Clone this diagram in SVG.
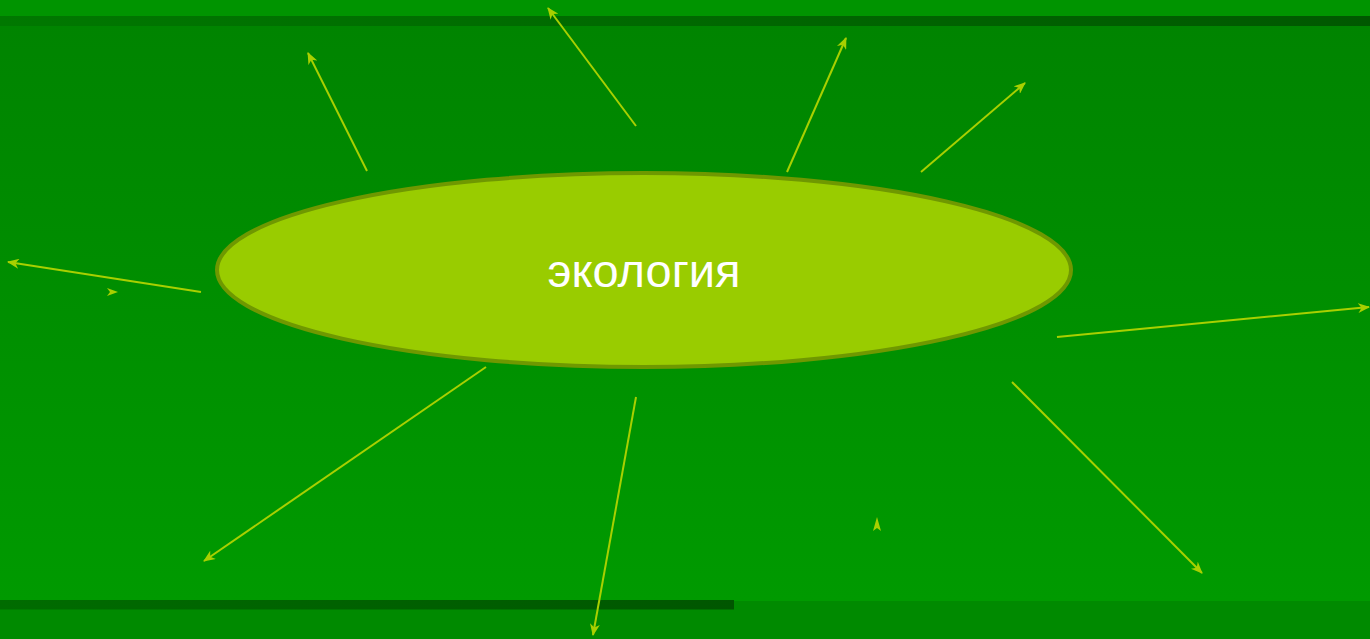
<svg xmlns="http://www.w3.org/2000/svg" width="1370" height="639" viewBox="0 0 1370 639">
<defs>
<linearGradient id="main" x1="0" y1="0" x2="0" y2="1">
<stop offset="0" stop-color="#008400"/>
<stop offset="1" stop-color="#009a00"/>
</linearGradient>
<linearGradient id="band" x1="0" y1="0" x2="1" y2="0">
<stop offset="0" stop-color="#007800"/>
<stop offset="1" stop-color="#005800"/>
</linearGradient>
<linearGradient id="band2" x1="0" y1="0" x2="1" y2="0">
<stop offset="0" stop-color="#006c00"/>
<stop offset="1" stop-color="#005600"/>
</linearGradient>
<marker id="ah" viewBox="0 0 12 10" refX="11" refY="5" markerWidth="12" markerHeight="10" markerUnits="userSpaceOnUse" orient="auto">
<path d="M0,0 L12,5 L0,10 L3.5,5 z" fill="#a8d000"/>
</marker>
<style>
.c{stroke:#a8d000;stroke-width:2;fill:none;marker-end:url(#ah)}
.h{fill:#a8d000}
.t{font-family:"Liberation Sans",Arial,sans-serif;font-size:47px;fill:#ffffff}
</style>
</defs>
<rect x="0" y="0" width="1370" height="639" fill="#008a00"/>
<rect x="0" y="0" width="1370" height="16" fill="#009400"/>
<rect x="0" y="16" width="1370" height="10" fill="url(#band)"/>
<rect x="0" y="26" width="1370" height="575" fill="url(#main)"/>
<rect x="0" y="600" width="734" height="9.5" fill="url(#band2)"/>
<g id="connectors">
<line class="c" x1="367" y1="171" x2="308" y2="53"/>
<line class="c" x1="636" y1="126" x2="548" y2="8"/>
<line class="c" x1="787" y1="172" x2="846" y2="38"/>
<line class="c" x1="921" y1="172" x2="1025" y2="83"/>
<line class="c" x1="201" y1="292" x2="8" y2="262"/>
<line class="c" x1="1057" y1="337" x2="1369" y2="307"/>
<line class="c" x1="486" y1="367" x2="204" y2="561"/>
<line class="c" x1="636" y1="397" x2="593" y2="635"/>
<line class="c" x1="1012" y1="382" x2="1202" y2="573"/>
<path class="h" d="M107,288 L118,292 L107,296 L110,292 z"/>
<path class="h" d="M873,531 L877,517 L881,531 L877,528 z"/>
</g>
<g id="ecology">
<ellipse cx="644" cy="270" rx="427" ry="97" fill="#99cc00" stroke="#6f9800" stroke-width="4"/>
<text class="t" x="644" y="287" text-anchor="middle">экология</text>
</g>
</svg>
